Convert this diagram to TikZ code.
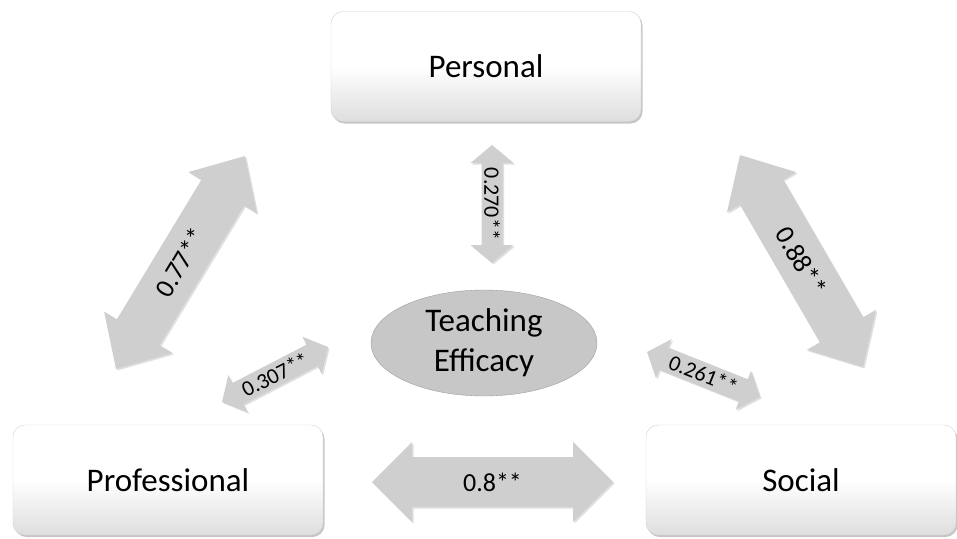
\documentclass[tikz,border=0pt]{standalone}
\usepackage{fontspec}
\setmainfont{Carlito}
\usetikzlibrary{calc,shadows,shapes.geometric}
\newcommand\myarrow[5]{%
  \coordinate (h1) at ($(#1)!#5!(#2)$);
  \coordinate (h2) at ($(#2)!#5!(#1)$);
  \fill[arrowfill] (#1) -- ($(h1)!#4!90:(#2)$) -- ($(h1)!#3!90:(#2)$)
    -- ($(h2)!#3!-90:(#1)$) -- ($(h2)!#4!-90:(#1)$) -- (#2)
    -- ($(h2)!#4!90:(#1)$) -- ($(h2)!#3!90:(#1)$)
    -- ($(h1)!#3!-90:(#2)$) -- ($(h1)!#4!-90:(#2)$) -- cycle;}
\tikzset{
  boxnode/.style={draw=black!18, rounded corners=12pt, top color=white,
    bottom color=black!13, middle color=white, minimum width=310pt,
    minimum height=110pt, font=\fontsize{33}{40}\selectfont,
    drop shadow={opacity=0.45, shadow xshift=1.5pt, shadow yshift=-2pt}},
  arrowfill/.style={fill=black!19,
    drop shadow={opacity=0.25, shadow xshift=1.5pt, shadow yshift=-1.5pt}},
  biglbl/.style={font=\fontsize{27}{30}\selectfont, inner sep=0pt},
  smalllbl/.style={font=\fontsize{22}{24}\selectfont, inner sep=0pt},
}
\begin{document}
\begin{tikzpicture}[x=1pt, y=-1pt]
\useasboundingbox (0,0) rectangle (957,538);
% boxes
\node[boxnode] (personal) at (486,66.5) {Personal};
\node[boxnode] (professional) at (168,480) {Professional};
\node[boxnode] (social) at (801,480) {Social};
% ellipse
\node[ellipse, draw=black!38, fill=black!22, minimum width=226pt, minimum height=106pt,
  align=center, font=\fontsize{33}{40}\selectfont, inner sep=0pt] (te) at (484,343)
  {Teaching\\Efficacy};
% arrow end points
\coordinate (a77s) at (116,369); \coordinate (a77e) at (245,156);
\coordinate (a88s) at (740,155); \coordinate (a88e) at (863,367);
\coordinate (a8s) at (372,482);  \coordinate (a8e) at (613,482);
\coordinate (a270s) at (492,145); \coordinate (a270e) at (492,263);
\coordinate (a307s) at (222,402); \coordinate (a307e) at (328,347);
\coordinate (a261s) at (647,352); \coordinate (a261e) at (760,397);
% arrows
\myarrow{a77s}{a77e}{25pt}{40pt}{43pt}
\myarrow{a88s}{a88e}{25pt}{40pt}{43pt}
\myarrow{a8s}{a8e}{25pt}{40pt}{40pt}
\myarrow{a270s}{a270e}{10.5pt}{21.5pt}{18pt}
\myarrow{a307s}{a307e}{12pt}{21pt}{18pt}
\myarrow{a261s}{a261e}{12pt}{21pt}{18pt}
% labels
\node[biglbl, rotate=59] (l77) at ($(a77s)!0.5!(a77e)$) {0.77**};
\node[biglbl, rotate=-60] (l88) at ($(a88s)!0.5!(a88e)$) {0.88**};
\node[font=\fontsize{26}{30}\selectfont, inner sep=0pt] (l8) at ($(a8s)!0.5!(a8e)$) {0.8**};
\node[smalllbl, rotate=-90] (l270) at ($(a270s)!0.5!(a270e)$) {0.270**};
\node[smalllbl, rotate=27] (l307) at ($(a307s)!0.5!(a307e)$) {0.307**};
\node[smalllbl, rotate=-22] (l261) at ($(a261s)!0.5!(a261e)$) {0.261**};
\end{tikzpicture}
\end{document}
